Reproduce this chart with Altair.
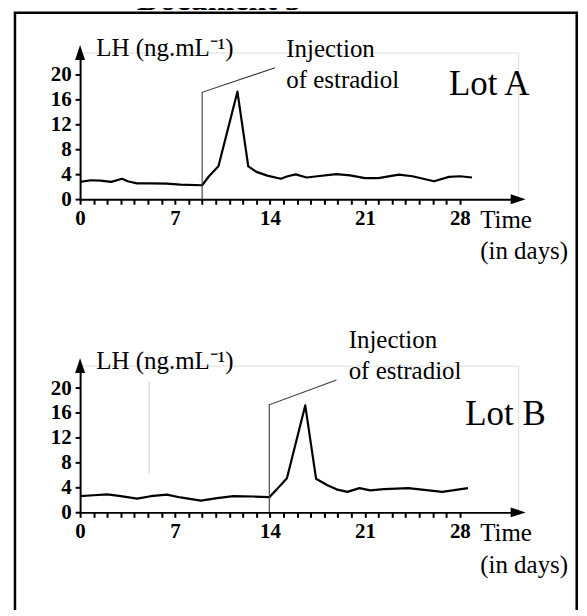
import altair as alt
import pandas as pd

# ---------------- data ----------------
# Lot A : LH (ng/mL) versus time (days)
days_a = [0.0, 0.8, 1.5, 2.3, 3.1, 3.5, 4.2, 5.2, 6.4, 7.4, 9.0, 9.5, 10.2, 11.6,
          12.4, 13.0, 13.8, 14.8, 15.3, 15.9, 16.7, 17.5, 18.9, 19.9, 21.0, 22.0,
          23.5, 24.5, 26.1, 27.2, 28.0, 28.9]
lh_a = [2.8, 3.05, 3.0, 2.8, 3.3, 2.9, 2.55, 2.55, 2.5, 2.35, 2.25, 3.7, 5.3, 17.3,
        5.3, 4.4, 3.8, 3.3, 3.7, 4.0, 3.5, 3.7, 4.05, 3.85, 3.4, 3.4,
        3.95, 3.7, 2.9, 3.6, 3.7, 3.5]

# Lot B
days_b = [0.0, 1.0, 2.0, 3.0, 4.2, 5.2, 6.4, 7.4, 8.9, 10.1, 11.3, 12.8, 13.95,
          14.5, 15.25, 16.6, 17.4, 18.2, 18.9, 19.7, 20.6, 21.4, 22.4, 24.2, 26.7, 28.6]
lh_b = [2.6, 2.75, 2.9, 2.6, 2.2, 2.6, 2.85, 2.4, 1.9, 2.3, 2.6, 2.55, 2.45,
        3.7, 5.5, 17.2, 5.4, 4.4, 3.7, 3.3, 3.9, 3.55, 3.75, 3.9, 3.3, 3.9]

# injection leader lines (day, LH) : vertical at injection day then diagonal to label
inj_a_days = [9.0, 9.0, 14.37]
inj_a_lh = [0.0, 17.2, 21.15]
inj_b_days = [13.95, 13.95, 18.9]
inj_b_lh = [0.0, 17.3, 21.3]

x_tick_values = list(range(0, 29))
y_tick_values = [0, 4, 8, 12, 16, 20]

title_text = "Document 3"
y_label = "LH (ng.mL\u207b\u00b9)"
x_label_1 = "Time"
x_label_2 = "(in days)"
inj_label_1 = "Injection"
inj_label_2 = "of estradiol"
lot_a = "Lot A"
lot_b = "Lot B"

# ---------------- layout constants ----------------
SERIF = "Liberation Serif"
X_MAX = 32.3
Y_MAX = 23.6
PX_DAY = 13.6
PX_LH = 6.235
W = X_MAX * PX_DAY
H = Y_MAX * PX_LH

ARROW_RIGHT = "M-1,-0.667L1,0L-1,0.667Z"
ARROW_UP = "M-0.667,1L0,-1L0.667,1Z"

x_enc = alt.X(
    "d:Q",
    scale=alt.Scale(domain=[0, X_MAX], nice=False, zero=False),
    axis=alt.Axis(
        values=x_tick_values,
        labelExpr="datum.value % 7 === 0 ? datum.label : ''",
        title=None, grid=False,
        domainColor="black", domainWidth=2,
        tickColor="black", tickWidth=2, tickSize=5,
        labelFont=SERIF, labelFontSize=21, labelFontWeight="bold",
        labelColor="black", labelPadding=3, labelBaseline="top",
        labelAlign="center", labelFlush=False, labelOverlap=False,
    ),
)
y_enc = alt.Y(
    "v:Q",
    scale=alt.Scale(domain=[0, Y_MAX], nice=False, zero=False),
    axis=alt.Axis(
        values=y_tick_values,
        title=None, grid=False,
        domainColor="black", domainWidth=2,
        tickColor="black", tickWidth=2, tickSize=5,
        labelFont=SERIF, labelFontSize=21, labelFontWeight="bold",
        labelColor="black", labelPadding=4, labelBaseline="middle",
        labelFlush=False, labelOverlap=False,
    ),
)

one = pd.DataFrame({"k": [0]})


def panel(days, lh, inj_d, inj_v, ann, lot, lot_pos, extra=None, frame=False):
    curve = alt.Chart(pd.DataFrame({"d": days, "v": lh})).mark_line(
        color="black", strokeWidth=2.2, strokeJoin="round"
    ).encode(x=x_enc, y=y_enc)

    inj = alt.Chart(pd.DataFrame({"d": inj_d, "v": inj_v, "i": list(range(len(inj_d)))})).mark_line(
        color="#3a3a3a", strokeWidth=1.1
    ).encode(x=x_enc, y=y_enc, order="i:Q")

    arr_x = alt.Chart(pd.DataFrame({"d": [X_MAX], "v": [0.0]})).mark_point(
        shape=ARROW_RIGHT, filled=True, opacity=1, color="black", size=225
    ).encode(x=x_enc, y=y_enc)
    arr_y = alt.Chart(pd.DataFrame({"d": [0.0], "v": [Y_MAX]})).mark_point(
        shape=ARROW_UP, filled=True, opacity=1, color="black", size=225
    ).encode(x=x_enc, y=y_enc)

    texts = alt.Chart(pd.DataFrame(ann)).mark_text(
        align="left", baseline="alphabetic", font=SERIF, fontSize=25, color="black"
    ).encode(x=x_enc, y=y_enc, text="t:N")

    lot_t = alt.Chart(pd.DataFrame({"d": [lot_pos[0]], "v": [lot_pos[1]], "t": [lot]})).mark_text(
        align="left", baseline="alphabetic", font=SERIF, fontSize=35, color="black"
    ).encode(x=x_enc, y=y_enc, text="t:N")

    layers = [curve, inj, arr_x, arr_y, texts, lot_t]
    if extra is not None:
        layers.append(extra)
    if frame:
        box = alt.Chart(one).mark_rect(fillOpacity=0, stroke="black", strokeWidth=2.5).encode(
            x=alt.value(-65.3), x2=alt.value(498), y=alt.value(-39.8), y2=alt.value(563)
        )
        title = alt.Chart(one).mark_text(
            text=title_text, font=SERIF, fontSize=32, fontWeight="bold",
            align="center", baseline="alphabetic", color="black"
        ).encode(x=alt.value(139.2), y=alt.value(-42.8))
        layers += [box, title]
    return alt.layer(*layers).properties(width=W, height=H)


ann_a = {
    "d": [1.19, 15.2, 15.2, 29.5, 29.5],
    "v": [23.1, 22.85, 17.9, -4.6, -9.67],
    "t": [y_label, inj_label_1, inj_label_2, x_label_1, x_label_2],
}
ann_b = {
    "d": [1.19, 19.8, 19.8, 29.5, 29.5],
    "v": [23.0, 26.4, 21.45, -4.6, -9.67],
    "t": [y_label, inj_label_1, inj_label_2, x_label_1, x_label_2],
}

# faint vertical scan line visible in panel B
scan = alt.Chart(pd.DataFrame({"d": [5.1], "v": [6.3], "v2": [21.0]})).mark_rule(
    color="#d2d2d2", strokeWidth=1
).encode(x=x_enc, y=y_enc, y2="v2:Q")

top = panel(days_a, lh_a, inj_a_days, inj_a_lh, ann_a, lot_a, (27.2, 16.8), frame=True)
bottom = panel(days_b, lh_b, inj_b_days, inj_b_lh, ann_b, lot_b, (28.4, 14.0), extra=scan)

chart = alt.vconcat(top, bottom, spacing=166, bounds="flush").properties(
    padding={"left": 4.3, "top": -26.2, "right": 0, "bottom": -7.1}
).configure_view(strokeWidth=0).configure(background="white")

chart.save("out.html", embed_options={"renderer": "svg", "actions": False})
